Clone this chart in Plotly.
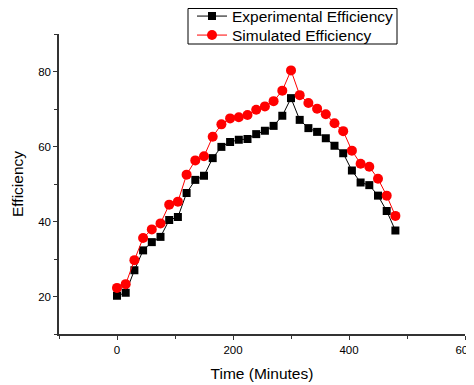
import plotly.graph_objects as go

time_min = [0, 15, 30, 45, 60, 75, 90, 105, 120, 135, 150, 165, 180, 195, 210, 225,
            240, 255, 270, 285, 300, 315, 330, 345, 360, 375, 390, 405, 420, 435, 450, 465, 480]
experimental = [20.2, 21.0, 27.0, 32.3, 34.5, 35.9, 40.4, 41.2, 47.6, 51.1, 52.2, 56.9, 59.9, 61.2, 61.8, 62.0,
                63.3, 64.2, 65.5, 68.2, 72.9, 67.1, 64.9, 63.9, 62.2, 60.2, 58.2, 53.6, 50.4, 49.7, 46.9, 42.8, 37.6]
simulated = [22.3, 23.3, 29.7, 35.6, 37.9, 39.5, 44.5, 45.3, 52.5, 56.3, 57.4, 62.6, 65.9, 67.5, 67.8, 68.4,
             69.8, 70.7, 72.1, 74.9, 80.3, 73.7, 71.6, 70.1, 68.6, 66.2, 64.1, 58.9, 55.4, 54.6, 51.4, 46.9, 41.5]
x_tick_vals = [0, 200, 400, 600]
y_tick_vals = [20, 40, 60, 80]

fig = go.Figure()
fig.add_trace(go.Scatter(
    x=time_min, y=experimental, mode="lines+markers", name="Experimental Efficiency",
    line=dict(color="black", width=1),
    marker=dict(symbol="square", size=8, color="black"),
    legend="legend",
))
fig.add_trace(go.Scatter(
    x=time_min, y=simulated, mode="lines+markers", name="Simulated Efficiency",
    line=dict(color="red", width=1),
    marker=dict(symbol="circle", size=10, color="red"),
    legend="legend2",
))

FONT = "Liberation Sans, Arial"
axis_font = dict(family=FONT, size=11.5, color="black")
title_font = dict(size=15.5, family=FONT, color="black")
legend_font = dict(size=15.5, family=FONT, color="black")

# page body has an 8px margin, so the figure is offset by 8px; compensate in margins
PH = 326.0  # paper height in px (t=0, b=59)
PW = 406.0
L = 51.0
fig.update_layout(
    width=474, height=385,
    margin=dict(l=51, r=17, t=0, b=59, autoexpand=False),
    paper_bgcolor="white", plot_bgcolor="white",
    font=dict(family=FONT, color="black"),
    showlegend=True,
    legend=dict(
        x=(184 - L) / PW, y=1 + 8.5 / PH, xanchor="left", yanchor="top",
        borderwidth=0, bgcolor="rgba(0,0,0,0)", font=legend_font,
    ),
    legend2=dict(
        x=(184 - L) / PW, y=1 - 10.5 / PH, xanchor="left", yanchor="top",
        borderwidth=0, bgcolor="rgba(0,0,0,0)", font=legend_font,
    ),
    shapes=[dict(
        type="rect", xref="paper", yref="paper",
        x0=(180 - L) / PW, x1=(389 - L) / PW,
        y0=(PH - 36) / PH, y1=(PH - 0.5) / PH,
        line=dict(color="black", width=1), fillcolor="rgba(0,0,0,0)", layer="above",
    )],
    xaxis=dict(
        range=[-100, 600], tickvals=x_tick_vals, ticks="outside", ticklen=4,
        tickcolor="#333", tickwidth=1, showline=True, linecolor="#333", linewidth=1.5,
        showgrid=False, zeroline=False, tickfont=axis_font, automargin=False,
        ticklabeloverflow="allow",
        minor=dict(dtick=100, tick0=0, ticks="outside", ticklen=3, tickcolor="#333", showgrid=False),
        title=dict(text="Time (Minutes)", font=title_font, standoff=14),
    ),
    yaxis=dict(
        domain=[0, 300 / PH],
        range=[10, 90], tickvals=y_tick_vals, ticks="outside", ticklen=4,
        tickcolor="#333", tickwidth=1, showline=True, linecolor="#333", linewidth=1.5,
        showgrid=False, zeroline=False, tickfont=axis_font, automargin=False,
        minor=dict(dtick=10, tick0=0, ticks="outside", ticklen=3, tickcolor="#333", showgrid=False),
        title=dict(text="Efficiency", font=title_font, standoff=11),
    ),
)

fig.write_html("out.html")
